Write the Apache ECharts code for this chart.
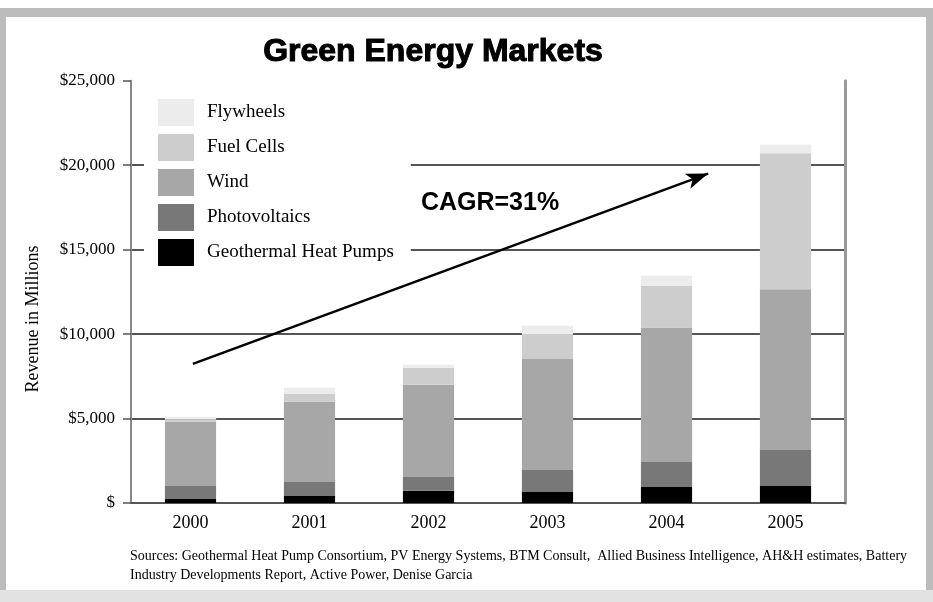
<!DOCTYPE html>
<html>
<head>
<meta charset="utf-8">
<script src="https://cdn.jsdelivr.net/npm/echarts@6/dist/echarts.min.js"></script>
<style>
html,body{margin:0;padding:0;background:#fff;}
#chart{width:933px;height:602px;}
</style>
</head>
<body>
<div id="chart"></div>
<script>
// ---- data ($ millions) ----
const years = ['2000', '2001', '2002', '2003', '2004', '2005'];
const geothermal   = [240, 420, 730, 650, 950, 1000];
const photovoltaics = [770, 830, 810, 1300, 1480, 2140];
const wind         = [3810, 4740, 5460, 6580, 7960, 9520];
const fuelCells    = [130, 470, 1010, 1480, 2470, 8040];
const flywheels    = [150, 360, 180, 480, 590, 530];
const yTicks = [0, 5000, 10000, 15000, 20000, 25000];
// trend arrow (x in category-index units, y in $ millions)
const arrowStart = [0.02, 8240];
const arrowEnd   = [4.35, 19500];

const serif = '"Liberation Serif", "DejaVu Serif", serif';
const sans = '"Liberation Sans", Arial, sans-serif';

const chart = echarts.init(document.getElementById('chart'), null, {renderer: 'canvas'});

function barSeries(name, data, color) {
  return {
    name: name, type: 'bar', stack: 'total', data: data,
    barWidth: '43%',
    itemStyle: {color: color, borderWidth: 0},
    emphasis: {disabled: true},
    silent: true
  };
}

const option = {
  backgroundColor: '#ffffff',
  animation: false,
  title: {
    text: 'Sources: Geothermal Heat Pump Consortium, PV Energy Systems, BTM Consult,  Allied Business Intelligence, AH&H estimates, Battery\nIndustry Developments Report, Active Power, Denise Garcia',
    left: 130, top: 547, padding: 0,
    textStyle: {fontFamily: serif, fontSize: 14, fontWeight: 'normal', color: '#000', lineHeight: 19}
  },
  grid: {left: 131, right: 88, top: 80.7, bottom: 99},
  legend: {
    orient: 'vertical',
    left: 144, top: 89,
    padding: [10, 17, 10, 14],
    backgroundColor: '#ffffff',
    icon: 'rect',
    itemWidth: 36, itemHeight: 27, itemGap: 8,
    selectedMode: false,
    data: ['Flywheels', 'Fuel Cells', 'Wind', 'Photovoltaics', 'Geothermal Heat Pumps'],
    textStyle: {fontFamily: serif, fontSize: 19, color: '#000', padding: [0, 0, 0, 8]}
  },
  xAxis: [{
    type: 'category', data: years, boundaryGap: true,
    axisLine: {show: true, onZero: false, lineStyle: {color: '#555', width: 2}},
    axisTick: {show: false},
    axisLabel: {fontFamily: serif, fontSize: 18, color: '#000', margin: 11},
    splitLine: {show: false}
  }, {
    type: 'value', min: -0.5, max: 5.5, show: false
  }],
  yAxis: [{
    type: 'value', min: yTicks[0], max: yTicks[yTicks.length - 1], interval: 5000,
    position: 'left',
    axisLine: {show: true, onZero: false, lineStyle: {color: '#888', width: 2}},
    axisTick: {show: true, length: 8, lineStyle: {color: '#555', width: 1.5}},
    axisLabel: {
      fontFamily: serif, fontSize: 17, color: '#000', margin: 16,
      formatter: function (v) { return v === 0 ? '$' : '$' + v.toLocaleString('en-US'); }
    },
    splitLine: {show: true, showMaxLine: false, showMinLine: false, lineStyle: {color: '#555', width: 2}}
  }, {
    type: 'value', min: 0, max: 25000, position: 'right',
    axisLine: {show: true, onZero: false, lineStyle: {color: '#999', width: 3}},
    axisTick: {show: false}, axisLabel: {show: false}, splitLine: {show: false}
  }],
  series: [
    barSeries('Geothermal Heat Pumps', geothermal, '#000000'),
    barSeries('Photovoltaics', photovoltaics, '#787878'),
    barSeries('Wind', wind, '#a7a7a7'),
    barSeries('Fuel Cells', fuelCells, '#cdcdcd'),
    barSeries('Flywheels', flywheels, '#ececec'),
    {
      type: 'line', xAxisIndex: 1, yAxisIndex: 0, data: [], silent: true,
      markLine: {
        silent: true, animation: false,
        symbol: ['none', 'arrow'], symbolSize: [12, 22],
        lineStyle: {color: '#000', width: 2.5, type: 'solid'},
        label: {show: false},
        emphasis: {disabled: true},
        data: [[{coord: arrowStart}, {coord: arrowEnd}]]
      }
    }
  ],
  graphic: [
    {type: 'rect', silent: true, shape: {x: 0, y: 8, width: 933, height: 9}, style: {fill: '#bcbcbc'}},
    {type: 'rect', silent: true, shape: {x: 0, y: 8, width: 6, height: 594}, style: {fill: '#bcbcbc'}},
    {type: 'rect', silent: true, shape: {x: 926, y: 8, width: 7, height: 594}, style: {fill: '#bcbcbc'}},
    {type: 'rect', silent: true, shape: {x: 0, y: 590, width: 933, height: 12}, style: {fill: '#e2e2e2'}},
    {type: 'text', silent: true, x: 433, y: 52.5,
      style: {text: 'Green Energy Markets', font: 'bold 32px ' + sans, fill: '#000',
        stroke: '#000', lineWidth: 1,
        align: 'center', verticalAlign: 'middle', textAlign: 'center', textVerticalAlign: 'middle'}},
    {type: 'text', silent: true, x: 490, y: 203,
      style: {text: 'CAGR=31%', font: 'bold 25px ' + sans, fill: '#000',
        align: 'center', verticalAlign: 'middle', textAlign: 'center', textVerticalAlign: 'middle'}},
    {type: 'text', silent: true, x: 33, y: 319, rotation: Math.PI / 2,
      style: {text: 'Revenue in Millions', font: '18px ' + serif, fill: '#000',
        align: 'center', verticalAlign: 'middle', textAlign: 'center', textVerticalAlign: 'middle'}}
  ]
};
chart.setOption(option);
</script>
</body>
</html>
